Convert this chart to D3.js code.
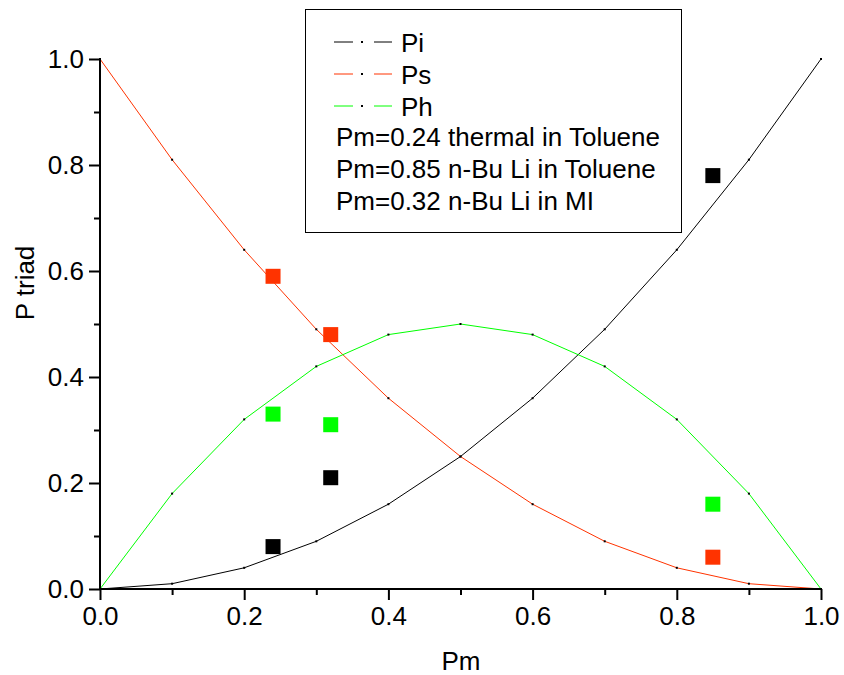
<!DOCTYPE html>
<html>
<head>
<meta charset="utf-8">
<script src="https://cdn.jsdelivr.net/npm/d3@7"></script>
<style>
  body { margin: 0; background: #fff; }
  svg { font-family: "Liberation Sans", Arial, sans-serif; }
</style>
</head>
<body>
<svg id="canvas"></svg>
<script>
// data
const pm = [0, 0.1, 0.2, 0.3, 0.4, 0.5, 0.6, 0.7, 0.8, 0.9, 1.0];
const pi = [0, 0.01, 0.04, 0.09, 0.16, 0.25, 0.36, 0.49, 0.64, 0.81, 1.0];
const ps = [1.0, 0.81, 0.64, 0.49, 0.36, 0.25, 0.16, 0.09, 0.04, 0.01, 0];
const ph = [0, 0.18, 0.32, 0.42, 0.48, 0.50, 0.48, 0.42, 0.32, 0.18, 0];

const expPm = [0.24, 0.32, 0.85];
const expPi = [0.08, 0.21, 0.78];
const expPs = [0.59, 0.48, 0.06];
const expPh = [0.33, 0.31, 0.16];

const seriesNames = ['Pi', 'Ps', 'Ph'];
const seriesColors = ['#000000', '#ff3300', '#00ff00'];
const notes = ['Pm=0.24 thermal in Toluene', 'Pm=0.85 n-Bu Li in Toluene', 'Pm=0.32 n-Bu Li in MI'];

const xTicks = [0, 0.2, 0.4, 0.6, 0.8, 1.0];
const yTicks = [0, 0.2, 0.4, 0.6, 0.8, 1.0];
const minorTicks = [0.1, 0.3, 0.5, 0.7, 0.9];

const width = 844, height = 675;
const svg = d3.select('#canvas').attr('width', width).attr('height', height);

const x = d3.scaleLinear().domain([0, 1]).range([100, 821]);
const y = d3.scaleLinear().domain([0, 1]).range([589, 59]);

const curves = [pi, ps, ph];
const points = [expPi, expPs, expPh];

// lines
const line = d3.line().x((d, i) => x(pm[i])).y(d => y(d));
curves.forEach((c, k) => {
  svg.append('path')
    .attr('d', line(c))
    .attr('fill', 'none')
    .attr('stroke', seriesColors[k])
    .attr('stroke-width', 1);
  // small black dots on the data points
  svg.selectAll(null)
    .data(c)
    .enter()
    .append('rect')
    .attr('x', (d, i) => x(pm[i]) - 1)
    .attr('y', d => y(d) - 1)
    .attr('width', 2)
    .attr('height', 2)
    .attr('fill', '#000');
});

// experimental squares
points.forEach((p, k) => {
  svg.selectAll(null)
    .data(p)
    .enter()
    .append('rect')
    .attr('x', (d, i) => x(expPm[i]) - 7.5)
    .attr('y', d => y(d) - 7.5)
    .attr('width', 15)
    .attr('height', 15)
    .attr('fill', seriesColors[k]);
});

// axes
const xAxis = svg.append('g')
  .attr('transform', 'translate(0,589)')
  .call(d3.axisBottom(x).tickValues(xTicks).tickFormat(d3.format('.1f')).tickSize(11).tickPadding(7));
const xMinor = svg.append('g')
  .attr('transform', 'translate(0,589)')
  .call(d3.axisBottom(x).tickValues(minorTicks).tickFormat('').tickSize(6));
const yAxis = svg.append('g')
  .attr('transform', 'translate(100,0)')
  .call(d3.axisLeft(y).tickValues(yTicks).tickFormat(d3.format('.1f')).tickSize(11).tickPadding(5));
const yMinor = svg.append('g')
  .attr('transform', 'translate(100,0)')
  .call(d3.axisLeft(y).tickValues(minorTicks).tickFormat('').tickSize(6));

[xAxis, xMinor, yAxis, yMinor].forEach(g => {
  g.select('.domain').attr('stroke', '#000').attr('stroke-width', 2);
  g.selectAll('.tick line').attr('stroke', '#000').attr('stroke-width', 2);
  g.selectAll('text').attr('font-size', 26).attr('font-family', '"Liberation Sans", Arial, sans-serif').attr('fill', '#000');
});
xAxis.select('.domain').attr('d', 'M100,0H821');
xMinor.select('.domain').remove();
yAxis.select('.domain').attr('d', 'M0,589V59');
yMinor.select('.domain').remove();

// axis titles
svg.append('text')
  .attr('x', 461).attr('y', 670)
  .attr('text-anchor', 'middle')
  .attr('font-size', 26)
  .text('Pm');
svg.append('text')
  .attr('transform', 'translate(34,283) rotate(-90)')
  .attr('text-anchor', 'middle')
  .attr('font-size', 26)
  .text('P triad');

// legend
const legend = svg.append('g');
legend.append('rect')
  .attr('x', 305.5).attr('y', 9.5)
  .attr('width', 376).attr('height', 223)
  .attr('fill', '#fff')
  .attr('stroke', '#000')
  .attr('stroke-width', 1);

const legendRows = legend.selectAll('g.item')
  .data(seriesNames)
  .enter()
  .append('g')
  .attr('class', 'item')
  .attr('transform', (d, i) => `translate(0, ${42 + i * 32})`);
legendRows.append('line')
  .attr('x1', 334).attr('x2', 353).attr('y1', 0).attr('y2', 0)
  .attr('stroke', (d, i) => seriesColors[i]);
legendRows.append('line')
  .attr('x1', 374).attr('x2', 392).attr('y1', 0).attr('y2', 0)
  .attr('stroke', (d, i) => seriesColors[i]);
legendRows.append('rect')
  .attr('x', 361).attr('y', -1).attr('width', 2).attr('height', 2)
  .attr('fill', '#000');
legendRows.append('text')
  .attr('x', 401).attr('y', 9.5)
  .attr('font-size', 26)
  .text(d => d);

legend.selectAll('text.note')
  .data(notes)
  .enter()
  .append('text')
  .attr('class', 'note')
  .attr('x', 336)
  .attr('y', (d, i) => 146 + i * 32)
  .attr('font-size', 26)
  .text(d => d);
</script>
</body>
</html>
